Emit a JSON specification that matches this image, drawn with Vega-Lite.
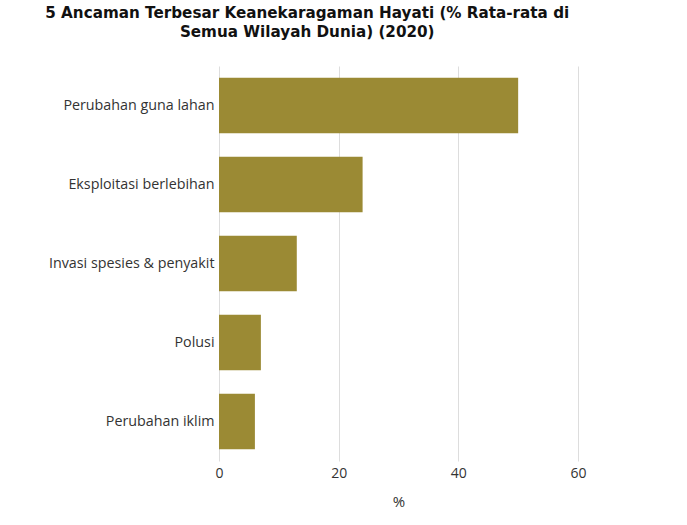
{
  "$schema": "https://vega.github.io/schema/vega-lite/v6.json",
  "width": 359,
  "height": 395,
  "padding": {"left": 45, "top": 5, "right": 5, "bottom": 5},
  "background": "white",
  "title": {
    "text": ["5 Ancaman Terbesar Keanekaragaman Hayati (% Rata-rata di", "Semua Wilayah Dunia) (2020)"],
    "font": "DejaVu Sans",
    "fontSize": 15.2,
    "fontWeight": "bold",
    "color": "#111111",
    "anchor": "middle",
    "frame": "bounds",
    "lineHeight": 19,
    "offset": 26,
    "dx": -10
  },
  "data": {
    "values": [
      {"ancaman": "Perubahan guna lahan", "persen": 50},
      {"ancaman": "Eksploitasi berlebihan", "persen": 24},
      {"ancaman": "Invasi spesies & penyakit", "persen": 13},
      {"ancaman": "Polusi", "persen": 7},
      {"ancaman": "Perubahan iklim", "persen": 6}
    ]
  },
  "encoding": {
    "y": {
      "field": "ancaman",
      "type": "nominal",
      "sort": null,
      "title": null,
      "scale": {"paddingInner": 0.3, "paddingOuter": 0.15},
      "axis": {
        "domain": false,
        "ticks": false,
        "grid": false,
        "labelFont": "Open Sans",
        "labelFontSize": 14.3,
        "labelColor": "#333333",
        "labelPadding": 5
      }
    },
    "x": {
      "field": "persen",
      "type": "quantitative",
      "title": "%",
      "scale": {"domain": [0, 60]},
      "axis": {
        "values": [0, 20, 40, 60],
        "domain": false,
        "ticks": false,
        "labelFlush": false,
        "gridColor": "#dddddd",
        "labelFont": "Open Sans",
        "labelFontSize": 14,
        "labelColor": "#333333",
        "labelPadding": 5,
        "titleFont": "Open Sans",
        "titleFontSize": 15,
        "titleFontWeight": "normal",
        "titleColor": "#333333",
        "titlePadding": 14
      }
    }
  },
  "layer": [
    {"mark": {"type": "bar", "color": "#9b8a34"}},
    {
      "mark": {"type": "text", "align": "left", "dx": 14, "color": "white", "font": "Open Sans", "fontSize": 14},
      "encoding": {"text": {"field": "persen", "type": "quantitative"}}
    }
  ],
  "config": {"view": {"stroke": null}}
}
